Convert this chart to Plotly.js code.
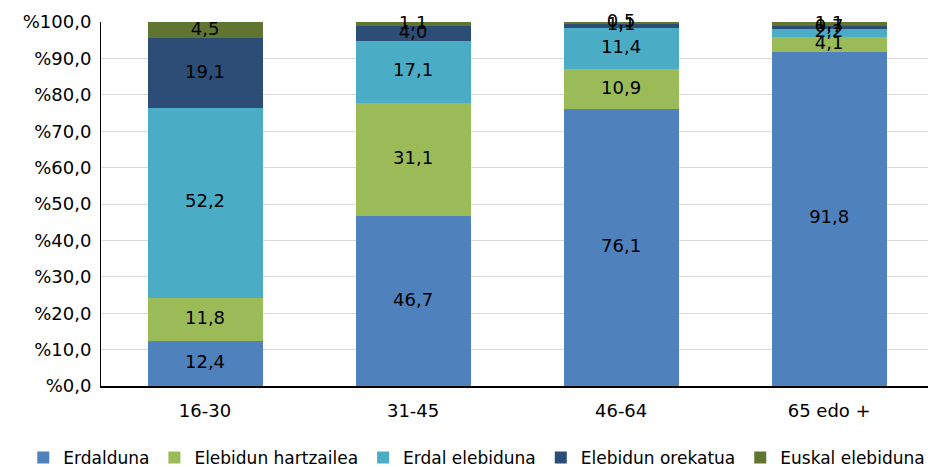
<!DOCTYPE html>
<html><head><meta charset="utf-8">
<script src="https://cdn.plot.ly/plotly-3.0.1.min.js"></script>
<style>body{margin:0;}#c{width:928px;height:467px;}</style>
</head><body><div id="c"></div>
<script>
const categories = ['16-30','31-45','46-64','65 edo +'];
const seriesNames = ['Erdalduna','Elebidun hartzailea','Erdal elebiduna','Elebidun orekatua','Euskal elebiduna'];
const erdalduna = [12.4, 46.7, 76.1, 91.8];
const hartzailea = [11.8, 31.1, 10.9, 4.1];
const erdalElebiduna = [52.2, 17.1, 11.4, 2.2];
const orekatua = [19.1, 4.0, 1.1, 0.7];
const euskalElebiduna = [4.5, 1.1, 0.5, 1.1];
const tickVals = [0,10,20,30,40,50,60,70,80,90,100];
const tickLabels = ['%0,0','%10,0','%20,0','%30,0','%40,0','%50,0','%60,0','%70,0','%80,0','%90,0','%100,0'];

const colors = ['#4F81BD','#9BBB59','#4BACC6','#2C4D75','#5F7530'];
const series = [erdalduna, hartzailea, erdalElebiduna, orekatua, euskalElebiduna];
const font = 'Verdana, "DejaVu Sans", sans-serif';
const traces = [];
series.forEach((vals, i) => {
  traces.push({type:'bar', name: seriesNames[i], x: categories, y: vals,
    marker:{color: colors[i], line:{width:0}}, hoverinfo:'none', textposition:'none'});
});
const cum = categories.map(()=>0);
const lx=[], ly=[], lt=[];
series.forEach(vals => {
  vals.forEach((v,j)=>{ lx.push(categories[j]); ly.push(cum[j]+v/2); lt.push(v.toFixed(1).replace('.',',')); cum[j]+=v; });
});
traces.push({type:'scatter', mode:'text', x: lx, y: ly, text: lt, showlegend:false,
  textfont:{family:font, size:18, color:'#000'}, hoverinfo:'none', cliponaxis:false});

Plotly.newPlot('c', traces, {
  width:928, height:467, barmode:'stack', bargap:0.447,
  margin:{l:101, r:0, t:22, b:81, autoexpand:false},
  paper_bgcolor:'#fff', plot_bgcolor:'#fff',
  font:{family:font, size:18, color:'#000'},
  xaxis:{type:'category', range:[-0.5, 3.475], showgrid:false, showline:true, linecolor:'#000', linewidth:1.5,
    ticks:'', tickangle:0, tickfont:{family:font,size:18}, ticklabelstandoff:8},
  yaxis:{range:[0,100], tickvals:tickVals, ticktext:tickLabels, showgrid:true, gridcolor:'#D9D9D9',
    showline:true, linecolor:'#000', linewidth:1, ticks:'', zeroline:false, tickfont:{family:font,size:18}, ticklabelstandoff:5},
  legend:{orientation:'h', traceorder:'normal', x:-0.094, xanchor:'left', y:-0.198, yanchor:'middle',
    font:{family:font,size:17}, itemwidth:30, itemclick:false}
}, {staticPlot:true});
</script></body></html>
